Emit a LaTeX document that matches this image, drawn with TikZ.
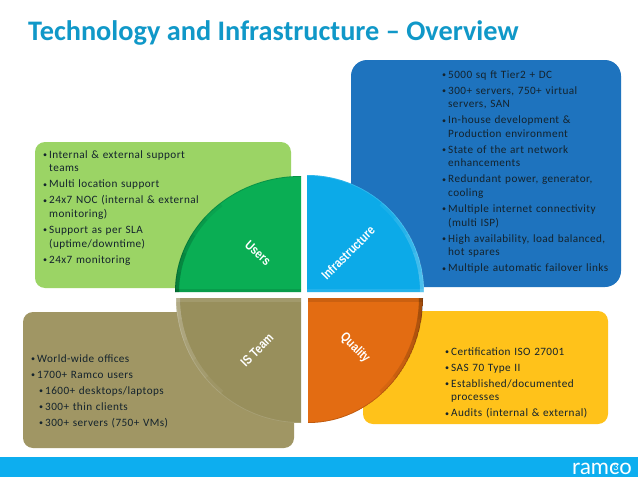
\documentclass[tikz,border=0pt]{standalone}
\usepackage{fontspec}
\setmainfont{Carlito}[LetterSpace=3.8]
\newfontfamily\titlefont{Carlito}
\newfontfamily\labelfont{Liberation Sans}
\newfontfamily\logofont{Lato}
\definecolor{titleblue}{RGB}{16,152,200}
\definecolor{bodytext}{RGB}{20,35,45}
\definecolor{barblue}{RGB}{13,174,239}
\definecolor{boxgreen}{RGB}{155,212,101}
\definecolor{boxolive}{RGB}{160,150,100}
\definecolor{boxblue}{RGB}{30,115,190}
\definecolor{boxyellow}{RGB}{255,194,26}
\definecolor{secgreen}{RGB}{10,174,84}
\definecolor{seccyan}{RGB}{12,170,232}
\definecolor{secolive}{RGB}{152,143,92}
\definecolor{secorange}{RGB}{227,108,18}
\newcommand{\dotmark}{\raisebox{.6pt}{\scalebox{.72}{\textbullet}}}
\newcommand{\bl}[1]{\par\vspace{2.4pt}\hangindent=6pt\hangafter=1\noindent\makebox[6pt][l]{\dotmark}#1\par}
\newcommand{\sbl}[1]{\par\vspace{2.4pt}\noindent\hspace*{8pt}\makebox[6pt][l]{\dotmark}#1\par}
\begin{document}
\begin{tikzpicture}[x=1pt, y=-1pt]
\tikzstyle{listtext}=[inner sep=0pt, anchor=north west, align=left, text=bodytext, text width=190pt, font=\fontsize{11.2}{13.6}\selectfont]
\tikzstyle{seclabel}=[inner sep=0pt, text=white, font=\labelfont\bfseries\fontsize{13}{15}\selectfont]

\useasboundingbox (0,0) rectangle (638,479);
\fill[white] (0,0) rectangle (638,479);

\fill[boxgreen, rounded corners=10pt] (35,142) rectangle (291,288);
\fill[boxolive, rounded corners=10pt] (23,312) rectangle (294,448);
\fill[boxblue, rounded corners=16pt] (351,60) rectangle (621,287);
\fill[boxyellow, rounded corners=10pt] (363,311) rectangle (608,424);
\fill[barblue] (0,457) rectangle (638,477);

\foreach \cx/\cy/\px/\rx/\ry/\sa/\ea/\sg/\base/\edge in {
  301/292/175/126/116/180/270/1/secgreen/black,
  307/292/424/117/117/0/-90/-1/seccyan/white,
  301/298/176/125/125/180/90/-1/secolive/white,
  308/298/423/115/125/0/90/1/secorange/black}{
  \begin{scope}
    \clip (\cx,\cy) -- (\px,\cy) arc[start angle=\sa, end angle=\ea, x radius=\rx, y radius=\ry] -- cycle;
    \fill[\base] (\cx,\cy) -- (\px,\cy) arc[start angle=\sa, end angle=\ea, x radius=\rx, y radius=\ry] -- cycle;
    \draw[\edge, opacity=.15, line width=1.6pt] (\px,\cy) arc[start angle=\sa, end angle=\ea, x radius=\rx, y radius=\ry];
    \foreach \k in {10,20,30,40,50}
      \draw[\edge, opacity=.06, line width=8pt] (\px,\cy) arc[start angle=\sa, end angle={\sa+\sg*\k}, x radius=\rx, y radius=\ry];
    \draw[\edge, opacity=.1, line width=7pt] (\cx,\cy) -- (\px,\cy);
  \end{scope}
}

\node[anchor=base west, inner sep=0pt, text=titleblue, font=\titlefont\bfseries\fontsize{28.3}{30}\selectfont] (title) at (28,41) {Technology and Infrastructure – Overview};

\node[listtext] (infralist) at (442,62) {%
\bl{5000 sq ft Tier2 + DC}
\bl{300+ servers, 750+ virtual\newline servers, SAN}
\bl{In-house development \&\newline Production environment}
\bl{State of the art network\newline enhancements}
\bl{Redundant power, generator,\newline cooling}
\bl{Multiple internet connectivity\newline (multi ISP)}
\bl{High availability, load balanced,\newline hot spares}
\bl{Multiple automatic failover links}};

\node[listtext] (userlist) at (43,142) {%
\bl{Internal \& external support\newline teams}
\bl{Multi location support}
\bl{24x7 NOC (internal \& external\newline monitoring)}
\bl{Support as per SLA\newline (uptime/downtime)}
\bl{24x7 monitoring}};

\node[listtext] (teamlist) at (31,346) {%
\bl{World-wide offices}
\bl{1700+ Ramco users}
\sbl{1600+ desktops/laptops}
\sbl{300+ thin clients}
\sbl{300+ servers (750+ VMs)}};

\node[listtext] (qualitylist) at (445,339) {%
\bl{Certification ISO 27001}
\bl{SAS 70 Type II}
\bl{Established/documented\newline processes}
\bl{Audits (internal \& external)}};

\node[seclabel, rotate=-42] (users) at (258,253) {\scalebox{.82}[1]{Users}};
\node[seclabel, rotate=45] (infra) at (348,253) {\scalebox{.82}[1]{Infrastructure}};
\node[seclabel, rotate=45] (isteam) at (257,350) {\scalebox{.82}[1]{IS Team}};
\node[seclabel, rotate=-45] (quality) at (355,348) {\scalebox{.82}[1]{Quality}};

\node[anchor=base east, inner sep=0pt, text=white, font=\logofont\fontsize{22}{25}\selectfont] (logo) at (632,474) {ramco};
\node[inner sep=0pt, text=white, font=\logofont\fontsize{9}{10}\selectfont] (pagenum) at (616,467) {3};
\end{tikzpicture}
\end{document}
